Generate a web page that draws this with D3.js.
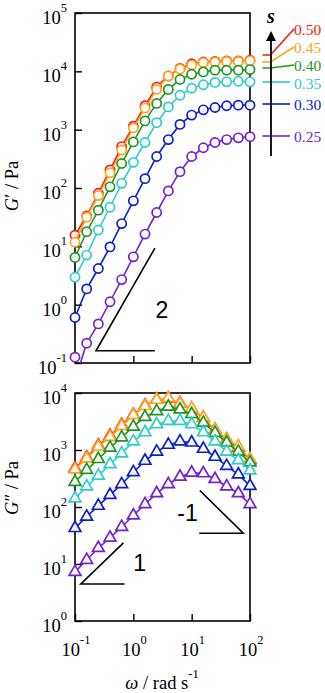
<!DOCTYPE html>
<html>
<head>
<meta charset="utf-8">
<script src="https://cdn.jsdelivr.net/npm/d3@7"></script>
<style>body{margin:0;background:#fff}</style>
</head>
<body>
<script>
// s values, plotted from highest to lowest so orange sits over red
const sLabels = ['0.50', '0.45', '0.40', '0.35', '0.30', '0.25'];
const colors = ['#ff1414', '#ffa31a', '#1f961f', '#2ecccc', '#0a1ed2', '#7420d4'];

// log10(omega / rad s-1)
const logOmega = [-1.0, -0.8, -0.6, -0.4, -0.2, 0.0, 0.2, 0.4, 0.6, 0.8, 1.0, 1.2, 1.4, 1.6, 1.8, 2.0];

// log10(G' / Pa)
const logGp050 = [1.19, 1.52, 1.91, 2.31, 2.71, 3.06, 3.41, 3.73, 3.92, 4.05, 4.13, 4.16, 4.17, 4.18, 4.18, 4.19];
const logGp045 = [1.07, 1.50, 1.87, 2.26, 2.65, 3.03, 3.37, 3.69, 3.92, 4.04, 4.11, 4.15, 4.16, 4.17, 4.17, 4.18];
const logGp040 = [0.81, 1.25, 1.62, 2.02, 2.42, 2.79, 3.15, 3.45, 3.69, 3.86, 3.95, 3.99, 4.02, 4.02, 4.02, 4.03];
const logGp035 = [0.47, 0.85, 1.28, 1.67, 2.08, 2.44, 2.78, 3.12, 3.39, 3.59, 3.71, 3.77, 3.81, 3.82, 3.83, 3.82];
const logGp030 = [-0.22, 0.27, 0.62, 0.99, 1.39, 1.78, 2.16, 2.54, 2.83, 3.09, 3.25, 3.34, 3.38, 3.41, 3.42, 3.42];
const logGp025 = [-0.90, -0.66, -0.33, 0.05, 0.43, 0.82, 1.21, 1.58, 1.95, 2.28, 2.54, 2.69, 2.78, 2.83, 2.86, 2.88];
// the 0.25 curve runs below the first point and out of the frame
const logGp025Line = [-1.30, -0.66, -0.33, 0.05, 0.43, 0.82, 1.21, 1.58, 1.95, 2.28, 2.54, 2.69, 2.78, 2.83, 2.86, 2.88];

// log10(G'' / Pa)
const logGpp050 = [2.68, 2.87, 3.08, 3.25, 3.44, 3.62, 3.78, 3.88, 3.90, 3.82, 3.72, 3.56, 3.35, 3.18, 3.04, 2.82];
const logGpp045 = [2.66, 2.85, 3.06, 3.23, 3.42, 3.61, 3.77, 3.88, 3.91, 3.81, 3.73, 3.57, 3.36, 3.19, 3.06, 2.84];
const logGpp040 = [2.44, 2.65, 2.84, 3.04, 3.22, 3.41, 3.58, 3.68, 3.76, 3.71, 3.63, 3.48, 3.30, 3.13, 2.97, 2.78];
const logGpp035 = [2.15, 2.36, 2.55, 2.75, 2.94, 3.15, 3.31, 3.45, 3.51, 3.51, 3.45, 3.31, 3.15, 2.97, 2.82, 2.64];
const logGpp030 = [1.63, 1.83, 2.02, 2.21, 2.40, 2.61, 2.81, 2.97, 3.09, 3.15, 3.13, 3.02, 2.88, 2.72, 2.57, 2.37];
const logGpp025 = [0.86, 1.07, 1.28, 1.46, 1.65, 1.85, 2.05, 2.24, 2.40, 2.53, 2.60, 2.59, 2.49, 2.36, 2.24, 2.05];

const gpMarks = [logGp050, logGp045, logGp040, logGp035, logGp030, logGp025];
const gpLines = [logGp050, logGp045, logGp040, logGp035, logGp030, logGp025Line];
const gppMarks = [logGpp050, logGpp045, logGpp040, logGpp035, logGpp030, logGpp025];

// tick exponents
const xTickExp = [-1, 0, 1, 2];
const yTopTickExp = [-1, 0, 1, 2, 3, 4, 5];
const yBotTickExp = [0, 1, 2, 3, 4];

// slope guides [log omega, log G]
const slope2 = [[0.37, 0.97], [-0.64, -0.79], [0.37, -0.79]];
const slope2Label = [0.49, -0.09, '2'];
const slope1 = [[-0.17, 1.37], [-0.90, 0.65], [-0.15, 0.65]];
const slope1Label = [0.11, 1.02, '1'];
const slopeM1 = [[1.14, 2.29], [1.885, 1.54], [1.13, 1.54]];
const slopeM1Label = [0.93, 1.89, '-1'];

const W = 325, H = 693;
const serif = '"Liberation Serif","Times New Roman",serif';
const sans = '"Liberation Sans",Arial,sans-serif';
const p10 = e => Math.pow(10, e);

const svg = d3.select('body').append('svg')
    .attr('width', W)
    .attr('height', H);

const x = d3.scaleLog().domain([0.1, 100]).range([75, 250]);
const yTop = d3.scaleLog().domain([0.1, 1e5]).range([363, 13]);
const yBot = d3.scaleLog().domain([1, 1e4]).range([621, 393]);

function drawFrame(y, yExps, id) {
    const [y0, y1] = y.range();
    svg.append('clipPath').attr('id', id).append('rect')
        .attr('x', x.range()[0]).attr('y', y1)
        .attr('width', x.range()[1] - x.range()[0]).attr('height', y0 - y1);

    const ga = svg.append('g').attr('transform', `translate(${x.range()[0]},0)`)
        .call(d3.axisLeft(y).tickValues(yExps.map(p10)).tickSize(-7).tickFormat(''));
    ga.select('.domain').remove();
    ga.selectAll('line').attr('stroke', '#000').attr('stroke-width', 1.4);

    const gb = svg.append('g').attr('transform', `translate(0,${y0})`)
        .call(d3.axisBottom(x).tickValues(xTickExp.map(p10)).tickSize(-7).tickFormat(''));
    gb.select('.domain').remove();
    gb.selectAll('line').attr('stroke', '#000').attr('stroke-width', 1.4);

    svg.append('rect')
        .attr('x', x.range()[0]).attr('y', y1)
        .attr('width', x.range()[1] - x.range()[0]).attr('height', y0 - y1)
        .attr('fill', 'none').attr('stroke', '#000').attr('stroke-width', 1.6);

    yExps.forEach(e => {
        const t = svg.append('text')
            .attr('x', 67).attr('y', y(p10(e)) + 11)
            .attr('text-anchor', 'end')
            .attr('font-family', serif).attr('font-size', 18.5);
        t.append('tspan').text('10');
        t.append('tspan').attr('dy', -12).attr('font-size', 12.5).text(e);
    });
}

function slopeGuide(pts, lab, y) {
    svg.append('path')
        .attr('d', d3.line().x(d => x(p10(d[0]))).y(d => y(p10(d[1])))(pts))
        .attr('fill', 'none').attr('stroke', '#000').attr('stroke-width', 1.6);
    svg.append('text')
        .attr('x', x(p10(lab[0]))).attr('y', y(p10(lab[1])))
        .attr('text-anchor', 'middle').attr('dominant-baseline', 'central')
        .attr('font-family', sans).attr('font-size', 23)
        .text(lab[2]);
}

// ---- top panel: G'
drawFrame(yTop, yTopTickExp, 'clipTop');
slopeGuide(slope2, slope2Label, yTop);

const lineTop = d3.line().x((d, i) => x(p10(logOmega[i]))).y(d => yTop(p10(d)));
const lineBot = d3.line().x((d, i) => x(p10(logOmega[i]))).y(d => yBot(p10(d)));

gpMarks.forEach((vals, k) => {
    svg.append('path')
        .attr('d', lineTop(gpLines[k]))
        .attr('clip-path', 'url(#clipTop)')
        .attr('fill', 'none').attr('stroke', colors[k]).attr('stroke-width', 1.6);
    svg.selectAll(null)
        .data(vals)
        .enter().append('circle')
        .attr('cx', (d, i) => x(p10(logOmega[i])))
        .attr('cy', d => yTop(p10(d)))
        .attr('r', 4.6)
        .attr('fill', '#fff').attr('stroke', colors[k]).attr('stroke-width', 1.7);
});

// ---- bottom panel: G''
drawFrame(yBot, yBotTickExp, 'clipBot');
slopeGuide(slope1, slope1Label, yBot);
slopeGuide(slopeM1, slopeM1Label, yBot);

const tri = d3.symbol().type(d3.symbolTriangle).size(60);
gppMarks.forEach((vals, k) => {
    svg.append('path')
        .attr('d', lineBot(vals))
        .attr('clip-path', 'url(#clipBot)')
        .attr('fill', 'none').attr('stroke', colors[k]).attr('stroke-width', 1.6);
    svg.selectAll(null)
        .data(vals)
        .enter().append('path')
        .attr('d', tri)
        .attr('transform', (d, i) => `translate(${x(p10(logOmega[i]))},${yBot(p10(d))})`)
        .attr('fill', '#fff').attr('stroke', colors[k]).attr('stroke-width', 1.7);
});

// x tick labels
xTickExp.forEach(e => {
    const t = svg.append('text')
        .attr('x', x(p10(e)) + 1).attr('y', 656)
        .attr('text-anchor', 'middle')
        .attr('font-family', serif).attr('font-size', 18.5);
    t.append('tspan').text('10');
    t.append('tspan').attr('dy', -12).attr('font-size', 12.5).text(e);
});

// axis titles
const xt = svg.append('text')
    .attr('x', 162).attr('y', 689)
    .attr('text-anchor', 'middle')
    .attr('font-family', serif).attr('font-size', 18.5);
xt.append('tspan').attr('font-style', 'italic').text('ω');
xt.append('tspan').text(' / rad s');
xt.append('tspan').attr('dy', -11).attr('font-size', 12.5).text('-1');

function yTitle(cy, prime) {
    const t = svg.append('text')
        .attr('transform', `translate(18,${cy}) rotate(-90)`)
        .attr('text-anchor', 'middle')
        .attr('font-family', serif).attr('font-size', 18.5);
    t.append('tspan').attr('font-style', 'italic').text('G');
    t.append('tspan').text(prime + ' / Pa');
}
yTitle(186, '′');
yTitle(488, '″');

// ---- legend
const legLabelY = [29, 47, 65, 83, 104, 136];
const legLineY = [55, 62, 68, 82, 104, 136];
const leg = svg.append('g');
legLabelY.forEach((ly, k) => {
    const hy = legLineY[k];
    const d = k < 3
        ? `M262.5,${hy}L270.5,${hy}L294,${ly}`
        : `M262.5,${hy}L290,${hy}`;
    leg.append('path').attr('d', d)
        .attr('fill', 'none').attr('stroke', colors[k]).attr('stroke-width', 1.6);
    leg.append('text')
        .attr('x', 294).attr('y', ly)
        .attr('dominant-baseline', 'central')
        .attr('font-family', serif).attr('font-size', 15.5)
        .attr('fill', colors[k])
        .text(sLabels[k]);
});
leg.append('line')
    .attr('x1', 271).attr('x2', 271).attr('y1', 38).attr('y2', 156)
    .attr('stroke', '#000').attr('stroke-width', 1.8);
leg.append('path').attr('d', 'M271,31L266,41L276,41Z').attr('fill', '#000');
leg.append('text')
    .attr('x', 271).attr('y', 23)
    .attr('text-anchor', 'middle')
    .attr('font-family', serif).attr('font-size', 20)
    .attr('font-style', 'italic').attr('font-weight', 'bold')
    .text('s');
</script>
</body>
</html>
